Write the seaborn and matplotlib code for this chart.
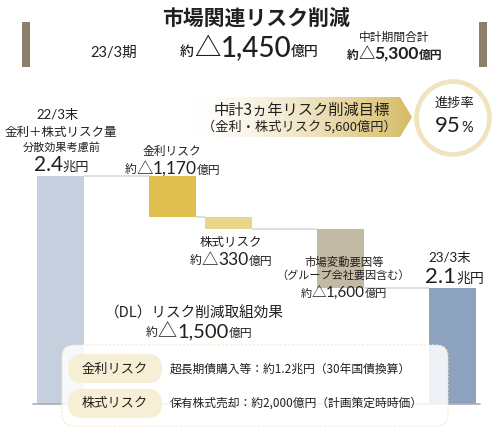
import numpy as np
import pandas as pd
import matplotlib
matplotlib.use("Agg")
import matplotlib.pyplot as plt
import matplotlib.colors as mcolors
from matplotlib.patches import FancyBboxPatch, Polygon, Circle, Rectangle
import seaborn as sns

# ---------------- data ----------------
steps = ["22/3末", "金利リスク", "株式リスク", "市場変動要因等", "23/3末"]
slot = [0, 2, 3, 5, 7]                       # horizontal slots of the waterfall
bar_top = [22.8, 22.8, 18.7, 17.5, 11.6]     # schematic bar tops (as drawn)
bar_bottom = [0.0, 18.7, 17.5, 11.6, 0.0]    # schematic bar bottoms (as drawn)
bar_colors = ["#c5cfde", "#dfc04e", "#ead58c", "#c3baa6", "#8da2be"]
amounts = ["2.4", "1,170", "330", "1,600", "2.1"]
period_total = "1,450"
plan_total = "5,300"
dl_effect = "1,500"
target = "5,600"
progress = "95"

sns.set_theme(style="white")
FONT = ["Noto Sans CJK JP", "DejaVu Sans"]
NUM = ["Lato", "Noto Sans CJK JP", "DejaVu Sans"]
plt.rcParams["font.family"] = FONT
INK = "#231f1c"

W, H = 500, 442
fig = plt.figure(figsize=(W / 100, H / 100), dpi=100)
fig.patch.set_facecolor("white")

# ---------------- waterfall bars (seaborn) ----------------
ax = fig.add_axes([0, 0, 1, 1], zorder=0)
df = pd.DataFrame({"slot": slot, "height": np.array(bar_top) - np.array(bar_bottom),
                   "bottom": bar_bottom, "step": steps})
sns.barplot(data=df, x="slot", y="height", bottom=df["bottom"].to_numpy(),
            native_scale=True, width=0.84, errorbar=None, ax=ax,
            color=bar_colors[0], linewidth=0, edgecolor="none")
for p, c in zip(ax.patches, bar_colors):
    p.set_facecolor(c)
    p.set_edgecolor("none")
    p.set_zorder(2)
bw = 0.84
for i in range(len(slot) - 1):
    lvl = bar_top[i + 1]
    ax.plot([slot[i] + bw / 2, slot[i + 1] - bw / 2], [lvl, lvl],
            color="#dcdcdc", lw=1.3, zorder=1, solid_capstyle="butt")
ax.set_xlim(-60.5 / 56, (W - 60.5) / 56)
ax.set_ylim(-(H - 404) / 10, 404 / 10)
ax.axis("off")

# ---------------- overlay decorations in pixel coordinates ----------------
ov = fig.add_axes([0, 0, 1, 1], zorder=1)
ov.set_facecolor("none")

# baseline
ov.plot([33, 480], [404, 404], color="#aeaeae", lw=1.2, zorder=1)

# header side bars
for x0 in (22, 479):
    ov.add_patch(Rectangle((x0, 22), 8, 45, facecolor="#8c806a", edgecolor="none"))

# gradient arrow banner
g = np.linspace(0, 1, 256) ** 1.4
c0 = np.array([1.0, 1.0, 1.0])
c1 = np.array(mcolors.to_rgb("#d6bb66"))
img = (c0[None, :] * (1 - g[:, None]) + c1[None, :] * g[:, None])[None, :, :]
im = ov.imshow(img, extent=[193, 412, 137, 97], aspect="auto", zorder=2)
poly = Polygon([[193, 97], [400, 97], [412, 117], [400, 137], [193, 137]],
               closed=True, facecolor="none", edgecolor="none")
ov.add_patch(poly)
im.set_clip_path(poly)

# progress circle
ov.add_patch(Circle((453, 118), 36.5, facecolor="white", edgecolor="#f0e4bf",
                    lw=3.4, zorder=3))

# note box
ov.add_patch(FancyBboxPatch((62, 345), 386, 81,
                            boxstyle="round,pad=0,rounding_size=12",
                            facecolor=(1, 1, 1, 0.86), edgecolor="#f3e8c6",
                            lw=0.8, ls=(0, (2, 1.5)), zorder=4))
for y0 in (354, 389):
    ov.add_patch(FancyBboxPatch((68, y0), 94, 29,
                                boxstyle="round,pad=0,rounding_size=14.5",
                                facecolor="#f6eed5", edgecolor="none", zorder=5))

ov.set_xlim(0, W)
ov.set_ylim(H, 0)
ov.axis("off")

# ---------------- text ----------------
renderer = fig.canvas.get_renderer()


def T(x, y, s, size, ha="center", va="center", weight="normal", color=INK, fam=FONT):
    fig.text(x / W, 1 - y / H, s, fontsize=size, ha=ha, va=va, zorder=10,
             fontweight=weight, color=color, family=fam)


def seq(cx, base, pieces):
    arts, widths = [], []
    for s, size, wt, fam in pieces:
        t = fig.text(0, 0, s, fontsize=size, fontweight=wt, family=fam, zorder=10,
                     va="baseline", ha="left", color=INK)
        arts.append(t)
        widths.append(t.get_window_extent(renderer).width)
    x = cx - sum(widths) / 2
    for t, w in zip(arts, widths):
        t.set_position((x / W, 1 - base / H))
        x += w


def money(cx, base, value, big, small, wt="normal"):
    seq(cx, base, [("約", small, wt, FONT), ("△", big * 0.95, wt, FONT),
                   (value, big, wt, NUM), ("億円", small, wt, FONT)])


# header
T(256, 18, "市場関連リスク削減", 15, weight="bold")
T(114, 53, "23/3期", 10.5, fam=NUM)
money(249.5, 56, period_total, 20, 10, "medium")
T(394, 37, "中計期間合計", 8.5)
money(394.5, 59, plan_total, 12.5, 8.5, "bold")

# banner / circle
T(302, 110, "中計3ヵ年リスク削減目標", 11)
T(299, 127, "（金利・株式リスク " + target + "億円）", 9.5)
T(454, 103, "進捗率", 9.5)
seq(454, 132, [(progress, 16, "normal", NUM), ("%", 10.5, "normal", NUM)])

# bar labels
T(58, 115, steps[0], 9.5, fam=NUM)
T(61, 132, "金利＋株式リスク量", 9)
T(62, 147, "分散効果考慮前", 8)
seq(61.5, 171, [(amounts[0], 15, "normal", NUM), ("兆円", 9.5, "normal", FONT)])

T(172, 151, steps[1], 8.5)
money(172.5, 174, amounts[1], 12.5, 8.5)

T(231, 242, steps[2], 9)
money(231, 265, amounts[2], 12.5, 8.5)

T(344, 262, steps[3], 8.2)
T(343, 276, "（グループ会社要因含む）", 8)
money(344, 297, amounts[3], 11, 8)

T(450, 258, steps[4], 9.6, fam=NUM)
seq(454.5, 283, [(amounts[4], 16, "normal", NUM), ("兆円", 10, "normal", FONT)])

T(194, 313, "（DL）リスク削減取組効果", 10.5)
money(199, 337, dl_effect, 14.5, 8.5)

# note box texts
T(115, 369, "金利リスク", 9.5)
T(115, 403, "株式リスク", 9.5)
T(170, 369, "超長期債購入等：約1.2兆円（30年国債換算）", 8.5, ha="left")
T(170, 403, "保有株式売却：約2,000億円（計画策定時時価）", 8.5, ha="left")

fig.savefig("out.png", dpi=100, facecolor="white")
